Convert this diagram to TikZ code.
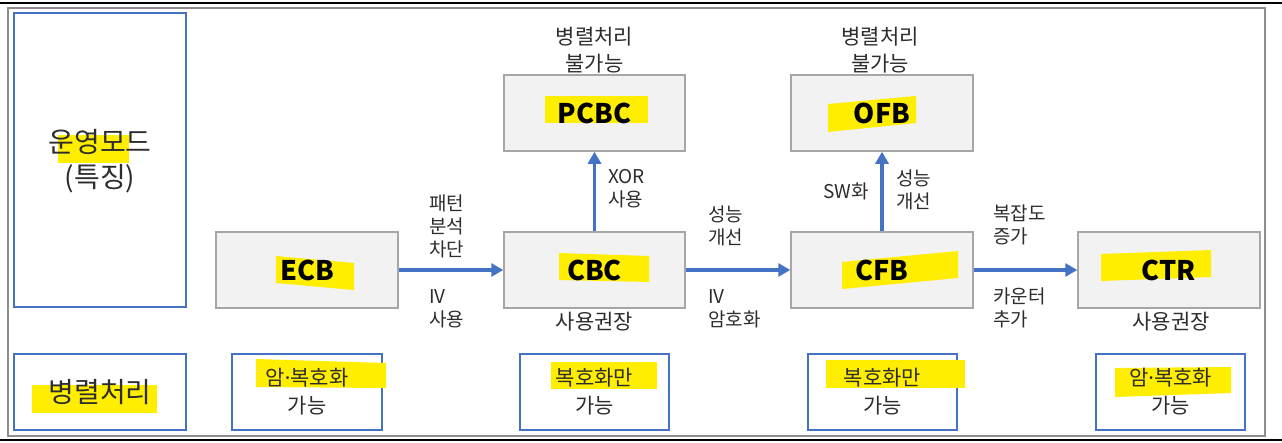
\documentclass[tikz,border=0pt]{standalone}
\usepackage{fontspec}
\setmainfont{Noto Sans CJK KR}
\newfontfamily\dotfont{Noto Sans}
\usetikzlibrary{arrows.meta}
\definecolor{hl}{RGB}{255,238,0}
\definecolor{arrowblue}{RGB}{68,114,196}
\definecolor{boxgray}{RGB}{242,242,242}
\definecolor{boxedge}{RGB}{166,166,166}
\definecolor{framegray}{RGB}{140,140,140}
\definecolor{txt}{RGB}{45,45,45}
\begin{document}
\begin{tikzpicture}[x=1pt,y=-1pt,
 modebox/.style={draw=boxedge,fill=boxgray,line width=1.5pt,minimum width=#1,minimum height=76pt,inner sep=0pt},
 infobox/.style={draw=arrowblue,line width=1.2pt,minimum width=#1,inner sep=0pt},
 modelabel/.style={font=\fontsize{27}{30}\selectfont\bfseries,text=black,inner sep=0pt},
 lbl/.style={font=\fontsize{19}{23}\selectfont,text=txt,align=left,inner sep=0pt},
 clbl/.style={font=\fontsize{21}{27}\selectfont,text=txt,align=center,inner sep=0pt},
 ilbl/.style={font=\fontsize{21}{28}\selectfont,text=txt,align=center,inner sep=0pt},
 biglbl/.style={font=\fontsize{28}{35}\selectfont,text=txt,align=center,inner sep=0pt},
 flow/.style={draw=arrowblue,line width=3.8pt,-{Triangle[length=12pt,width=13pt]}},
]
\useasboundingbox (0,0) rectangle (1282,442);
\fill[white] (0,0) rectangle (1282,442);
% outer frame
\draw[line width=2pt] (0,2.5) -- (1282,2.5);
\draw[line width=2pt] (0,440) -- (1282,440);
\draw[framegray,line width=2pt] (8,8) rectangle (1265,436);

% left boxes
\node[infobox=172pt,minimum height=294pt] (modes) at (100,160) {};
\node[infobox=172pt,minimum height=76pt] (para) at (100,392) {};

% mode boxes
\node[modebox=182pt] (ecb) at (307,270) {};
\node[modebox=181pt] (cbc) at (594.5,270) {};
\node[modebox=181pt] (pcbc) at (594.5,113) {};
\node[modebox=182pt] (cfb) at (882,270) {};
\node[modebox=182pt] (ofb) at (882,113) {};
\node[modebox=182pt] (ctr) at (1169,270) {};

% info boxes
\node[infobox=150pt,minimum height=76pt] (i1) at (307,392) {};
\node[infobox=149pt,minimum height=76pt] (i2) at (594.5,392) {};
\node[infobox=149pt,minimum height=76pt] (i3) at (882.5,392) {};
\node[infobox=149pt,minimum height=76pt] (i4) at (1170.5,392) {};

% highlights
\fill[hl] (276,256) -- (354,263) -- (354,290) -- (276,283) -- cycle;
\fill[hl] (559,253) -- (649,256) -- (649,282) -- (559,280) -- cycle;
\fill[hl] (545,96) -- (648,96) -- (648,123) -- (545,123) -- cycle;
\fill[hl] (828,104) -- (916,96) -- (916,123) -- (828,132) -- cycle;
\fill[hl] (842,262) -- (958,251) -- (958,278) -- (842,289) -- cycle;
\fill[hl] (1101,254) -- (1211,250) -- (1211,277) -- (1101,281) -- cycle;
\fill[hl] (58,135) -- (129,135) -- (129,163) -- (58,163) -- cycle;
\fill[hl] (32,385) -- (157,385) -- (157,413) -- (32,413) -- cycle;
\fill[hl] (256,359) -- (386,363) -- (386,388) -- (256,387) -- cycle;
\fill[hl] (551,362) -- (657,362) -- (657,389) -- (551,389) -- cycle;
\fill[hl] (826,360) -- (965,360) -- (965,388) -- (826,388) -- cycle;
\fill[hl] (1115,368) -- (1231,367) -- (1231,393) -- (1115,397) -- cycle;

% mode labels
\node[modelabel] (ecbt) at (ecb) {ECB};
\node[modelabel] (cbct) at (cbc) {CBC};
\node[modelabel] (pcbct) at (pcbc) {PCBC};
\node[modelabel] (cfbt) at (cfb) {CFB};
\node[modelabel] (ofbt) at (ofb) {OFB};
\node[modelabel] (ctrt) at (ctr) {CTR};

% left labels
\node[biglbl] (modest) at (100,161) {운영모드\\(특징)};
\node[biglbl] (parat) at (100,392) {병렬처리};

% info labels
\node[ilbl] (i1t) at (i1) {암{\dotfont ·}복호화\\가능};
\node[ilbl] (i2t) at (i2) {복호화만\\가능};
\node[ilbl] (i3t) at (i3) {복호화만\\가능};
\node[ilbl] (i4t) at (i4) {암{\dotfont ·}복호화\\가능};

% arrows
\draw[flow] (ecb.east) -- (cbc.west);
\draw[flow] (cbc.north) -- (pcbc.south);
\draw[flow] (cbc.east) -- (cfb.west);
\draw[flow] (cfb.north) -- (ofb.south);
\draw[flow] (cfb.east) -- (ctr.west);

% arrow labels
\node[lbl,anchor=west] (l1) at (429,226) {패턴\\분석\\차단};
\node[lbl,anchor=west] (l2) at (429,309) {IV\\사용};
\node[lbl,anchor=west] (l3) at (608,189) {XOR\\사용};
\node[lbl,anchor=west] (l4) at (708,226) {성능\\개선};
\node[lbl,anchor=west] (l5) at (708,309) {IV\\암호화};
\node[lbl] (l7) at (846,191) {SW화};
\node[lbl,anchor=west] (l8) at (896,190) {성능\\개선};
\node[lbl,anchor=west] (l9) at (993,225) {복잡도\\증가};
\node[lbl,anchor=west] (l10) at (993,308) {카운터\\추가};

% captions
\node[clbl] (l6) at (594.5,322) {사용권장};
\node[clbl] (l11) at (1171,322) {사용권장};
\node[clbl] (l12) at (594.5,50) {병렬처리\\불가능};
\node[clbl] (l13) at (880,50) {병렬처리\\불가능};
\end{tikzpicture}
\end{document}
